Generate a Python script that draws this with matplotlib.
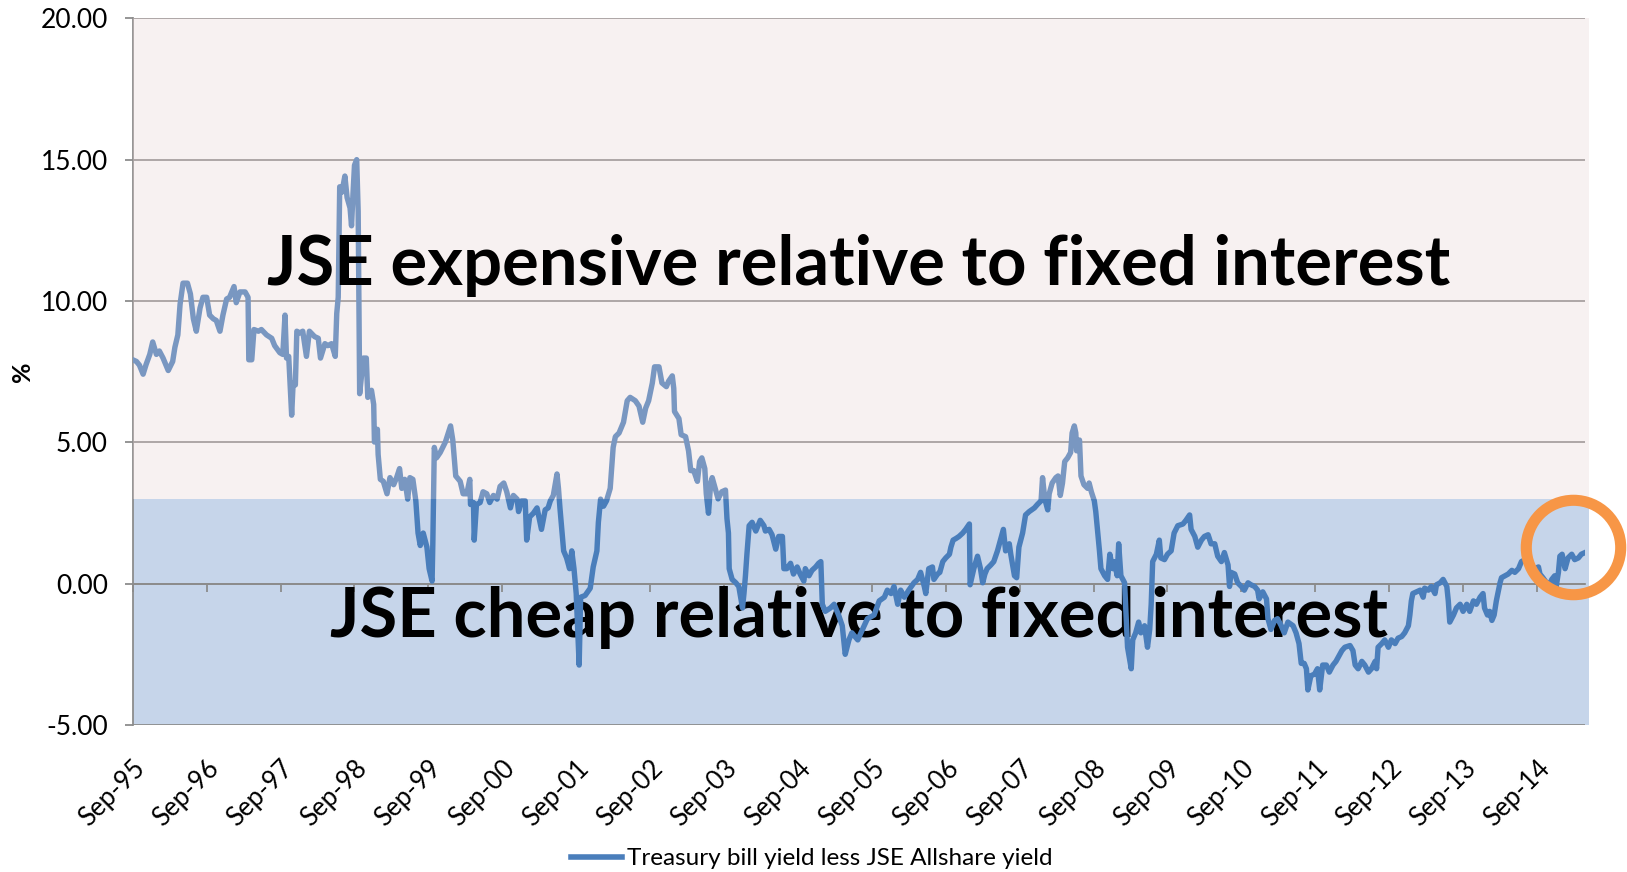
import matplotlib
matplotlib.use("Agg")
import matplotlib.pyplot as plt
from matplotlib.patches import Rectangle
from matplotlib.lines import Line2D

plt.rcParams['font.family'] = ['Lato', 'DejaVu Sans']

# series: decimal year, Treasury bill yield less JSE Allshare yield (%)
years = [
    1995.67, 1995.72, 1995.76, 1995.81, 1995.85, 1995.90, 1995.94, 1995.99, 1996.03, 1996.08,
    1996.15, 1996.21, 1996.24, 1996.28, 1996.31, 1996.35, 1996.41, 1996.45, 1996.49, 1996.53,
    1996.58, 1996.62, 1996.67, 1996.71, 1996.76, 1996.80, 1996.85, 1996.89, 1996.94, 1996.98,
    1997.04, 1997.07, 1997.12, 1997.19, 1997.23, 1997.24, 1997.28, 1997.31, 1997.37, 1997.41,
    1997.48, 1997.55, 1997.59, 1997.66, 1997.70, 1997.73, 1997.75, 1997.78, 1997.82, 1997.84,
    1997.87, 1997.89, 1997.93, 1997.97, 1998.02, 1998.06, 1998.13, 1998.18, 1998.21, 1998.27,
    1998.31, 1998.36, 1998.41, 1998.43, 1998.45, 1998.47, 1998.50, 1998.54, 1998.57, 1998.61,
    1998.63, 1998.65, 1998.67, 1998.70, 1998.72, 1998.74, 1998.79, 1998.83, 1998.85,
    1998.90, 1998.93, 1998.94, 1998.98, 1998.99, 1999.02, 1999.06, 1999.11, 1999.15, 1999.20,
    1999.24, 1999.28, 1999.31, 1999.35, 1999.39, 1999.42, 1999.46, 1999.50, 1999.53, 1999.56,
    1999.60, 1999.65, 1999.68, 1999.72, 1999.73, 1999.75, 1999.78, 1999.83, 1999.90, 1999.94,
    1999.97, 2000.00, 2000.04, 2000.10, 2000.14, 2000.19, 2000.23, 2000.24, 2000.28, 2000.29,
    2000.32, 2000.37, 2000.41, 2000.46, 2000.50, 2000.55, 2000.60, 2000.64, 2000.69, 2000.73,
    2000.78, 2000.82, 2000.87, 2000.89, 2000.93, 2000.98, 2001.00, 2001.04, 2001.09, 2001.14,
    2001.17, 2001.20, 2001.25, 2001.29, 2001.32, 2001.36, 2001.41, 2001.43, 2001.45, 2001.50,
    2001.54, 2001.58, 2001.61, 2001.64, 2001.67, 2001.71, 2001.73, 2001.79, 2001.86, 2001.90,
    2001.95, 2001.97, 2002.00, 2002.04, 2002.08, 2002.13, 2002.17, 2002.20,
    2002.25, 2002.31, 2002.36, 2002.40, 2002.47, 2002.52, 2002.57, 2002.61, 2002.65, 2002.70,
    2002.73, 2002.79, 2002.83, 2002.89, 2002.92, 2002.97, 2002.99, 2003.00, 2003.06, 2003.09,
    2003.15, 2003.19, 2003.22, 2003.26, 2003.31, 2003.34, 2003.37, 2003.41, 2003.43, 2003.46,
    2003.49, 2003.51, 2003.55, 2003.59, 2003.64, 2003.69, 2003.71, 2003.73, 2003.74, 2003.78,
    2003.83, 2003.87, 2003.92, 2003.94, 2003.96, 2003.98, 2004.01, 2004.05, 2004.10, 2004.16,
    2004.21, 2004.23, 2004.28, 2004.32, 2004.37, 2004.41, 2004.46, 2004.48, 2004.52, 2004.57,
    2004.61, 2004.66, 2004.70, 2004.75, 2004.77, 2004.82, 2004.86, 2004.91, 2004.95, 2004.98,
    2005.00, 2005.04, 2005.11, 2005.16, 2005.22, 2005.27, 2005.31, 2005.36, 2005.40,
    2005.48, 2005.61, 2005.70, 2005.77, 2005.84, 2005.88, 2005.93, 2005.97, 2006.02, 2006.06,
    2006.11, 2006.17, 2006.24, 2006.29, 2006.33, 2006.38, 2006.40, 2006.44, 2006.49, 2006.51,
    2006.56, 2006.59, 2006.63, 2006.67, 2006.72, 2006.74, 2006.77, 2006.81, 2006.85, 2006.90,
    2006.94, 2006.99, 2007.00, 2007.05, 2007.10, 2007.14, 2007.17, 2007.20, 2007.23, 2007.28,
    2007.32, 2007.37, 2007.41, 2007.45, 2007.48, 2007.53, 2007.55, 2007.60, 2007.63, 2007.66,
    2007.71, 2007.75, 2007.80, 2007.87, 2007.91, 2007.96, 2007.98, 2008.01, 2008.05, 2008.07,
    2008.11, 2008.16, 2008.19, 2008.22, 2008.25, 2008.28, 2008.32, 2008.36, 2008.38, 2008.41,
    2008.43, 2008.44, 2008.48, 2008.50, 2008.54, 2008.59, 2008.61, 2008.64, 2008.68, 2008.70,
    2008.75, 2008.77, 2008.82, 2008.86, 2008.89, 2008.93, 2008.95, 2008.99, 2009.01, 2009.04,
    2009.09, 2009.11, 2009.13, 2009.18, 2009.20, 2009.24, 2009.28, 2009.31, 2009.36, 2009.40,
    2009.43, 2009.45, 2009.47, 2009.52, 2009.56, 2009.58, 2009.63, 2009.67, 2009.72, 2009.76,
    2009.81, 2009.88, 2009.92, 2009.97, 2009.99, 2010.04, 2010.08, 2010.13, 2010.17, 2010.22,
    2010.26, 2010.31, 2010.35, 2010.40, 2010.44, 2010.49, 2010.51, 2010.53, 2010.58, 2010.62,
    2010.67, 2010.71, 2010.76, 2010.80, 2010.85, 2010.89, 2010.91, 2010.96, 2011.01, 2011.03,
    2011.07, 2011.12, 2011.16, 2011.21, 2011.25, 2011.30, 2011.37, 2011.41, 2011.45, 2011.48,
    2011.52, 2011.55, 2011.57, 2011.61, 2011.66, 2011.70, 2011.73, 2011.77, 2011.82, 2011.86,
    2011.91, 2011.95,
    2012.03, 2012.07, 2012.14, 2012.18, 2012.21, 2012.25, 2012.30, 2012.34, 2012.39, 2012.43,
    2012.48, 2012.50, 2012.52, 2012.57, 2012.61, 2012.66, 2012.70, 2012.75, 2012.79, 2012.84,
    2012.88, 2012.93, 2012.95, 2012.97, 2012.99, 2013.04, 2013.09, 2013.13, 2013.15, 2013.20,
    2013.24, 2013.29, 2013.31, 2013.36, 2013.40, 2013.45, 2013.47, 2013.49, 2013.54, 2013.58,
    2013.63, 2013.67, 2013.72, 2013.76, 2013.81, 2013.85, 2013.90, 2013.94, 2013.96, 2014.00,
    2014.03, 2014.06, 2014.09, 2014.12, 2014.17, 2014.19, 2014.24, 2014.28, 2014.33, 2014.37,
    2014.42, 2014.46, 2014.51, 2014.55, 2014.60, 2014.64, 2014.69, 2014.71, 2014.75, 2014.80,
    2014.83, 2014.87, 2014.91, 2014.93, 2014.96, 2014.98, 2015.01, 2015.05, 2015.09, 2015.14,
    2015.18, 2015.23, 2015.27, 2015.32,
]
spread = [
    7.92, 7.86, 7.73, 7.41, 7.75, 8.11, 8.55, 8.11, 8.23, 7.98,
    7.54, 7.86, 8.36, 8.80, 9.88, 10.63, 10.63, 10.25, 9.37, 8.93,
    9.75, 10.13, 10.13, 9.50, 9.37, 9.31, 8.93, 9.50, 10.07, 10.13,
    10.51, 9.94, 10.32, 10.32, 10.13, 7.92, 7.92, 8.99, 8.93, 8.99,
    8.80, 8.68, 8.42, 8.17, 8.11, 9.50, 7.98, 8.04, 5.96, 7.10,
    7.03, 8.93, 8.87, 8.93, 8.04, 8.93, 8.74, 8.68, 7.98, 8.49,
    8.42, 8.49, 8.04, 9.56, 10.13, 14.04, 13.85, 14.42, 13.66, 13.29,
    12.66, 13.79, 14.80, 15.00, 13.16, 6.72, 7.98, 7.98, 6.59,
    6.84, 6.34, 5.01, 5.46, 4.57, 3.69, 3.62, 3.18, 3.75, 3.50,
    3.75, 4.07, 3.37, 3.69, 2.99, 3.75, 3.69, 2.93, 1.79, 1.35,
    1.79, 1.29, 0.53, 0.09, 1.41, 4.82, 4.45, 4.64, 5.01, 5.33,
    5.58, 5.08, 3.81, 3.62, 3.18, 3.18, 3.69, 2.80, 2.87, 1.54,
    2.80, 2.87, 3.25, 3.18, 2.87, 3.12, 2.99, 3.44, 3.56, 3.25,
    2.68, 3.12, 2.99, 2.55, 2.93, 2.93, 1.54, 2.36, 2.49, 2.68,
    2.30, 1.92, 2.61, 2.68, 2.93, 3.12, 3.88, 3.37, 2.68, 1.16,
    0.91, 0.53, 1.16, 0.53, -0.35, -2.88, -0.48, -0.42, -0.16, 0.59,
    1.16, 2.17, 2.99, 2.74, 2.93, 3.37, 4.82, 5.20,
    5.33, 5.71, 6.47, 6.59, 6.47, 6.28, 5.71, 6.21, 6.47, 7.10,
    7.67, 7.67, 7.10, 6.97, 7.16, 7.35, 6.91, 6.09, 5.84, 5.27,
    5.20, 4.70, 4.00, 4.00, 3.62, 4.32, 4.45, 4.07, 3.18, 2.49,
    3.56, 3.75, 3.37, 3.00, 3.25, 3.31, 2.30, 1.79, 0.53, 0.15,
    0.03, -0.10, -0.86, -0.35, 0.28, 1.04, 2.05, 2.17, 1.86, 2.24,
    2.05, 1.86, 1.92, 1.73, 1.22, 1.67, 1.67, 0.53, 0.53, 0.72,
    0.34, 0.59, 0.34, 0.09, 0.53, 0.28, 0.47, 0.59, 0.72, 0.78,
    -0.73, -0.98, -0.86, -0.73, -1.11, -1.49, -2.50, -1.99, -1.74,
    -1.99, -1.24, -1.11, -0.61, -0.48, -0.23, -0.35, -0.10, -0.73, -0.23,
    -0.48, -0.23, 0.03, 0.15, 0.40, -0.10, -0.35, 0.53, 0.59, 0.15,
    0.34, 0.40, 0.78, 0.91, 1.04, 1.29, 1.54, 1.60, 1.67, 1.79,
    1.92, 2.11, -0.04, 0.53, 0.97, 0.53, 0.03, 0.34, 0.53, 0.66,
    0.78, 1.16, 1.54, 1.92, 1.16, 1.41, 1.04, 0.28, 0.21, 1.29,
    1.79, 2.43, 2.55, 2.68, 2.80, 2.93, 3.75, 3.00, 2.61, 3.18,
    3.56, 3.75, 3.81, 3.12, 3.56, 4.32, 4.45, 4.64, 5.33, 5.58,
    5.33, 4.70, 5.08, 3.81, 3.50, 3.37, 3.56, 3.25, 2.93, 2.55,
    1.16, 0.53, 0.28, 0.15, 1.04, 0.53, 0.78, 0.28, 1.41, 0.28,
    0.03, -1.11, -2.25, -3.01, -1.99, -1.74, -1.36, -1.74, -1.49, -2.25,
    -1.62, -0.73, 0.78, 1.04, 1.54, 0.91, 0.85, 1.04, 1.16, 1.79,
    2.05, 2.11, 2.24, 2.43, 1.92, 1.67, 1.29, 1.54, 1.67, 1.73,
    1.41, 1.41, 0.97, 0.78, 1.10, 0.66, -0.10, 0.40, 0.34, 0.03,
    -0.10, -0.23, 0.03, -0.04, -0.10, -0.23, -0.54, -0.29, -0.54, -1.24,
    -1.62, -1.30, -1.24, -1.49, -1.74, -1.36, -1.49, -1.74, -2.12, -2.82,
    -2.82, -3.01, -3.76, -3.26, -3.20, -3.01, -3.76, -2.88, -2.88, -3.13,
    -2.88, -2.75,
    -2.37, -2.25, -2.19, -2.37, -2.88, -3.01, -2.75, -2.88, -3.13, -3.01,
    -2.75, -3.01, -2.25, -2.12, -1.99, -2.25, -1.99, -2.12, -1.93, -1.87,
    -1.74, -1.49, -1.11, -0.61, -0.35, -0.29, -0.23, -0.48, -0.16, -0.23,
    -0.10, -0.35, -0.04, 0.03, 0.15, -0.10, -0.61, -1.36, -1.11, -0.86,
    -0.73, -0.98, -0.73, -0.98, -0.61, -0.73, -0.48, -0.35, -0.86, -1.11,
    -0.98, -1.30, -1.11, -0.61, 0.03, 0.21, 0.28, 0.34, 0.47, 0.40,
    0.53, 0.78, 0.85, 0.66, 0.53, 0.53, 0.59, 0.34, 0.21, 0.03,
    -0.10, 0.15, 0.28, -0.10, 0.40, 0.97, 1.04, 0.53, 0.91, 1.04,
    0.85, 0.91, 1.04, 1.10,
]

tick_years = [1995.67 + k for k in range(20)]
tick_labels = ["Sep-%02d" % ((95 + k) % 100) for k in range(20)]
y_ticks = [-5, 0, 5, 10, 15, 20]
cheap_top = 3.0          # boundary between the two shaded zones
circle_at = (2015.16, 1.28)

grid_col = "#8C8C8C"
line_col = "#4A7EBB"

fig = plt.figure(figsize=(16.27, 8.72), dpi=100)
ax = fig.add_axes([0.0816, 0.1686, 0.8926, 0.8104])
ax.set_xlim(1995.67, 2015.32)
ax.set_ylim(-5, 20)

# shaded zones (run a few pixels past the right edge, like the original)
ax.add_patch(Rectangle((0, 0), 1.003, (cheap_top + 5) / 25, transform=ax.transAxes,
                       facecolor="#C6D5EA", edgecolor="none", zorder=0.5, clip_on=False))

for v in y_ticks:
    ax.axhline(v, color=grid_col, lw=1.3, zorder=1)

ax.text(0.5, 0.1245, "JSE cheap relative to fixed interest", transform=ax.transAxes,
        ha="center", va="baseline", fontsize=49.5, fontweight="bold", color="black", zorder=2)

ax.plot(years, spread, color=line_col, lw=3.9, solid_joinstyle="round", zorder=3)

ax.add_patch(Rectangle((0, (cheap_top + 5) / 25), 1.003, (20 - cheap_top) / 25,
                       transform=ax.transAxes, facecolor="#E7D2D2", alpha=0.3,
                       edgecolor="none", zorder=4, clip_on=False))

ax.text(0.5, 0.6226, "JSE expensive relative to fixed interest", transform=ax.transAxes,
        ha="center", va="baseline", fontsize=49.5, fontweight="bold", color="black", zorder=5)

ax.plot([circle_at[0]], [circle_at[1]], marker="o", markersize=68, markerfacecolor="none",
        markeredgecolor="#F79646", markeredgewidth=8, clip_on=False, zorder=6)

# axes styling
for s in ["top", "right"]:
    ax.spines[s].set_visible(False)
ax.spines["left"].set_color(grid_col)
ax.spines["left"].set_linewidth(1.3)
ax.spines["bottom"].set_position(("data", 0))
ax.spines["bottom"].set_color(grid_col)
ax.spines["bottom"].set_linewidth(1.3)

ax.set_yticks(y_ticks)
ax.set_yticklabels(["%.2f" % v for v in y_ticks])
ax.tick_params(axis="y", length=6, width=1.3, color=grid_col, pad=12, labelsize=19)
ax.set_xticks(tick_years)
ax.tick_params(axis="x", direction="out", length=6, width=1.3, color=grid_col, labelbottom=False)

sec = ax.secondary_xaxis("bottom")
sec.set_xticks(tick_years)
sec.set_xticklabels(tick_labels, rotation=45, ha="right", va="top", rotation_mode="anchor")
sec.tick_params(length=0, pad=22, labelsize=18.5)
sec.spines["bottom"].set_visible(False)

ax.set_ylabel("%", fontsize=18, fontweight="bold")
ax.yaxis.set_label_coords(-0.068, 0.5)

handle = Line2D([], [], color=line_col, lw=4)
fig.legend([handle], ["Treasury bill yield less JSE Allshare yield"], loc="lower center",
           bbox_to_anchor=(0.499, -0.022), frameon=False, fontsize=17.5,
           handlelength=2.1, handletextpad=0.2)

fig.savefig("out.png", dpi=100)
